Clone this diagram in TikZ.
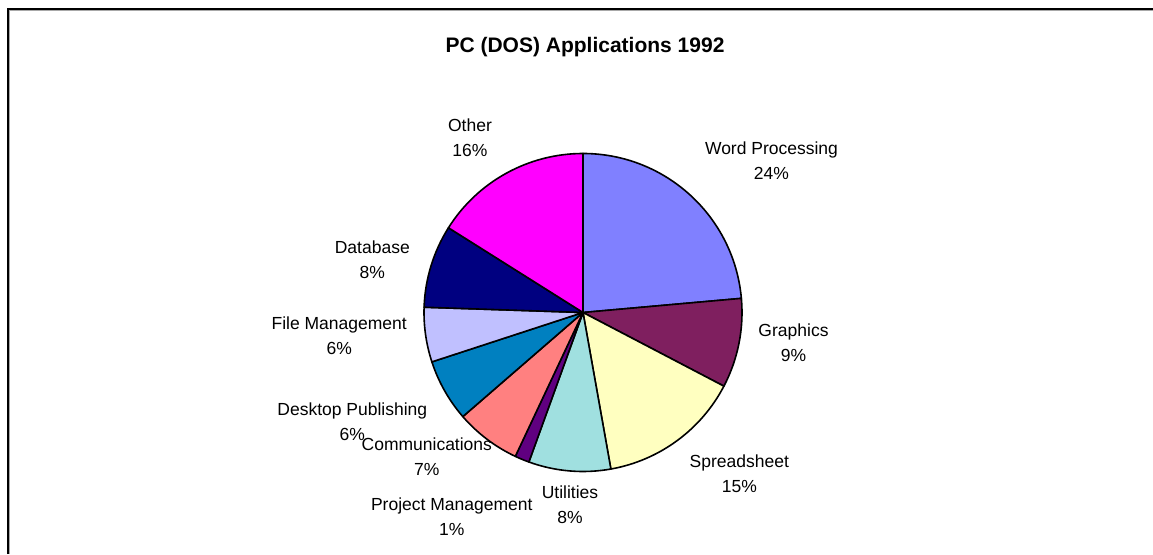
\documentclass[tikz,border=0pt]{standalone}
\usepackage{fontspec}
\setmainfont{Liberation Sans}
\definecolor{cwp}{HTML}{8080FF}
\definecolor{cgr}{HTML}{7F1F5F}
\definecolor{csp}{HTML}{FFFFC0}
\definecolor{cut}{HTML}{A0E0E0}
\definecolor{cpm}{HTML}{600080}
\definecolor{ccm}{HTML}{FF8080}
\definecolor{cdp}{HTML}{0080C0}
\definecolor{cfm}{HTML}{C0C0FF}
\definecolor{cdb}{HTML}{000080}
\definecolor{cot}{HTML}{FF00FF}
\definecolor{shadow}{HTML}{A8A8A8}
\begin{document}
\begin{tikzpicture}[x=1pt,y=1pt,
  slice/.style={draw=black, line width=1.6pt, line join=round},
  lbl/.style={align=center, inner sep=0pt, font=\fontsize{17.5}{25}\selectfont},
  ttl/.style={inner sep=0pt, anchor=base, font=\fontsize{21}{25}\selectfont\bfseries}]
\useasboundingbox (0,0) rectangle (1153,554);
% frame
\draw[shadow, line width=1pt] (9.6,0) -- (9.6,543.5) -- (1153,543.5);
\draw[black, line width=2.2pt] (7.8,0) -- (7.8,545) -- (1153,545);
% title
\node[ttl] (title) at (585,501.7) {PC (DOS) Applications 1992};
% pie
\coordinate (c) at (583,241.5);
\def\R{159}
\newcommand{\pieslice}[3]{%
  \draw[slice, fill=#3] (c) -- ++(#1:\R) arc[start angle=#1, end angle=#2, radius=\R] -- cycle;}
\pieslice{90}{5.1}{cwp}
\pieslice{5.1}{-27.6}{cgr}
\pieslice{-27.6}{-79.9}{csp}
\pieslice{-79.9}{-109.9}{cut}
\pieslice{-109.9}{-115.2}{cpm}
\pieslice{-115.2}{-139.1}{ccm}
\pieslice{-139.1}{-161.9}{cdp}
\pieslice{-161.9}{-181.9}{cfm}
\pieslice{-181.9}{-212.2}{cdb}
\pieslice{-212.2}{-270}{cot}
% labels
\node[lbl] (lot) at (470,416.5) {Other\\16\%};
\node[lbl] (lwp) at (771.5,393.5) {Word Processing\\24\%};
\node[lbl] (lgr) at (793.5,211) {Graphics\\9\%};
\node[lbl] (lsp) at (739.3,80) {Spreadsheet\\15\%};
\node[lbl] (lut) at (570,49.5) {Utilities\\8\%};
\node[lbl] (lpm) at (451.8,37) {Project Management\\1\%};
\node[lbl] (lcm) at (426.8,97.3) {Communications\\7\%};
\node[lbl] (ldp) at (352.3,132.5) {Desktop Publishing\\6\%};
\node[lbl] (lfm) at (339.2,218) {File Management\\6\%};
\node[lbl] (ldb) at (372.3,294) {Database\\8\%};
\end{tikzpicture}
\end{document}
